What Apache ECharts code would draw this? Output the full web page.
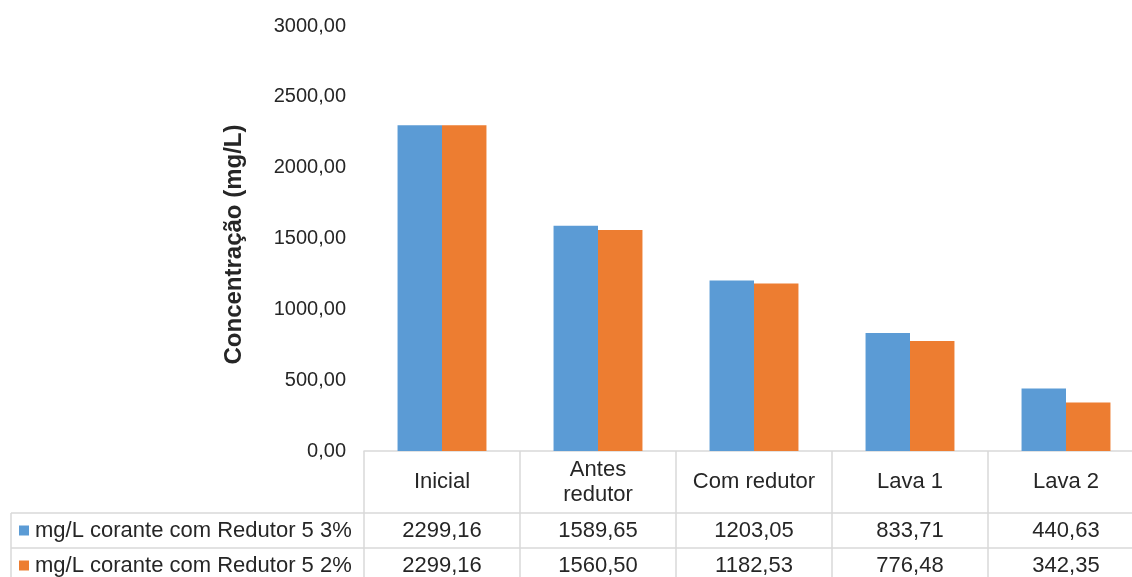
<!DOCTYPE html>
<html>
<head>
<meta charset="utf-8">
<script src="https://cdn.jsdelivr.net/npm/echarts@6/dist/echarts.min.js"></script>
<style>
html,body{margin:0;padding:0;background:#fff;}
#chart{width:1132px;height:577px;}
</style>
</head>
<body>
<div id="chart"></div>
<script>
var categories = ['Inicial', 'Antes\nredutor', 'Com redutor', 'Lava 1', 'Lava 2'];
var seriesNames = ['mg/L corante com Redutor 5 3%', 'mg/L corante com Redutor 5 2%'];
var values3 = [2299.16, 1589.65, 1203.05, 833.71, 440.63];
var values2 = [2299.16, 1560.50, 1182.53, 776.48, 342.35];
var yTicks = { min: 0, max: 3000, interval: 500 };

function fmt(v) { return Number(v).toFixed(2).replace('.', ','); }

var FONT = 'Liberation Sans, Arial, sans-serif';
var TXT = '#262626';
var LINE = '#d9d9d9';

var chart = echarts.init(document.getElementById('chart'));

var valueAxisCommon = function (offset, data) {
  return {
    type: 'category',
    position: 'bottom',
    offset: offset,
    data: data,
    axisLine: { show: true, lineStyle: { color: LINE, width: 1.5 } },
    axisTick: { show: false },
    axisLabel: {
      interval: 0, margin: 17.5, verticalAlign: 'middle',
      fontFamily: FONT, fontSize: 22, color: TXT
    },
    splitLine: { show: false }
  };
};

chart.setOption({
  animation: false,
  backgroundColor: '#fff',
  color: ['#5B9BD5', '#ED7D31'],
  grid: { left: 364, right: -12, top: 26, bottom: 126, containLabel: false, outerBoundsMode: 'none' },
  legend: {
    orient: 'vertical',
    left: 19, top: 519.5,
    padding: 0,
    itemGap: 13,
    itemWidth: 10, itemHeight: 10,
    icon: 'rect',
    data: seriesNames,
    textStyle: { fontFamily: FONT, fontSize: 22, lineHeight: 22, color: TXT, padding: [0,0,0,1] }
  },
  yAxis: {
    type: 'value',
    min: yTicks.min, max: yTicks.max, interval: yTicks.interval,
    name: 'Concentração (mg/L)',
    nameLocation: 'middle',
    nameGap: 118,
    nameTextStyle: { fontFamily: FONT, fontSize: 24, fontWeight: 'bold', color: TXT, padding: [0, 12, 0, 0] },
    axisLine: { show: false },
    axisTick: { show: false },
    splitLine: { show: false },
    axisLabel: { fontFamily: FONT, fontSize: 20, color: TXT, margin: 18, formatter: fmt }
  },
  xAxis: [
    {
      type: 'category',
      position: 'bottom',
      offset: 0,
      data: categories,
      axisLine: { show: true, lineStyle: { color: LINE, width: 1.5 } },
      axisTick: { show: true, length: 140, alignWithLabel: false, lineStyle: { color: LINE, width: 1.5 } },
      axisLabel: {
        interval: 0, margin: 31, verticalAlign: 'middle', lineHeight: 25,
        fontFamily: FONT, fontSize: 22, color: TXT
      },
      splitLine: { show: false }
    },
    valueAxisCommon(62, values3.map(fmt)),
    valueAxisCommon(97, values2.map(fmt))
  ],
  graphic: [
    { type: 'line', shape: { x1: 11, y1: 513, x2: 364, y2: 513 }, style: { stroke: LINE, lineWidth: 1.5 }, silent: true },
    { type: 'line', shape: { x1: 11, y1: 548, x2: 364, y2: 548 }, style: { stroke: LINE, lineWidth: 1.5 }, silent: true },
    { type: 'line', shape: { x1: 11, y1: 513, x2: 11, y2: 600 }, style: { stroke: LINE, lineWidth: 1.5 }, silent: true }
  ],
  series: [
    { name: seriesNames[0], type: 'bar', xAxisIndex: 0, data: values3, barGap: '0%', barCategoryGap: '43%' },
    { name: seriesNames[1], type: 'bar', xAxisIndex: 0, data: values2, barGap: '0%', barCategoryGap: '43%' }
  ]
});
</script>
</body>
</html>
